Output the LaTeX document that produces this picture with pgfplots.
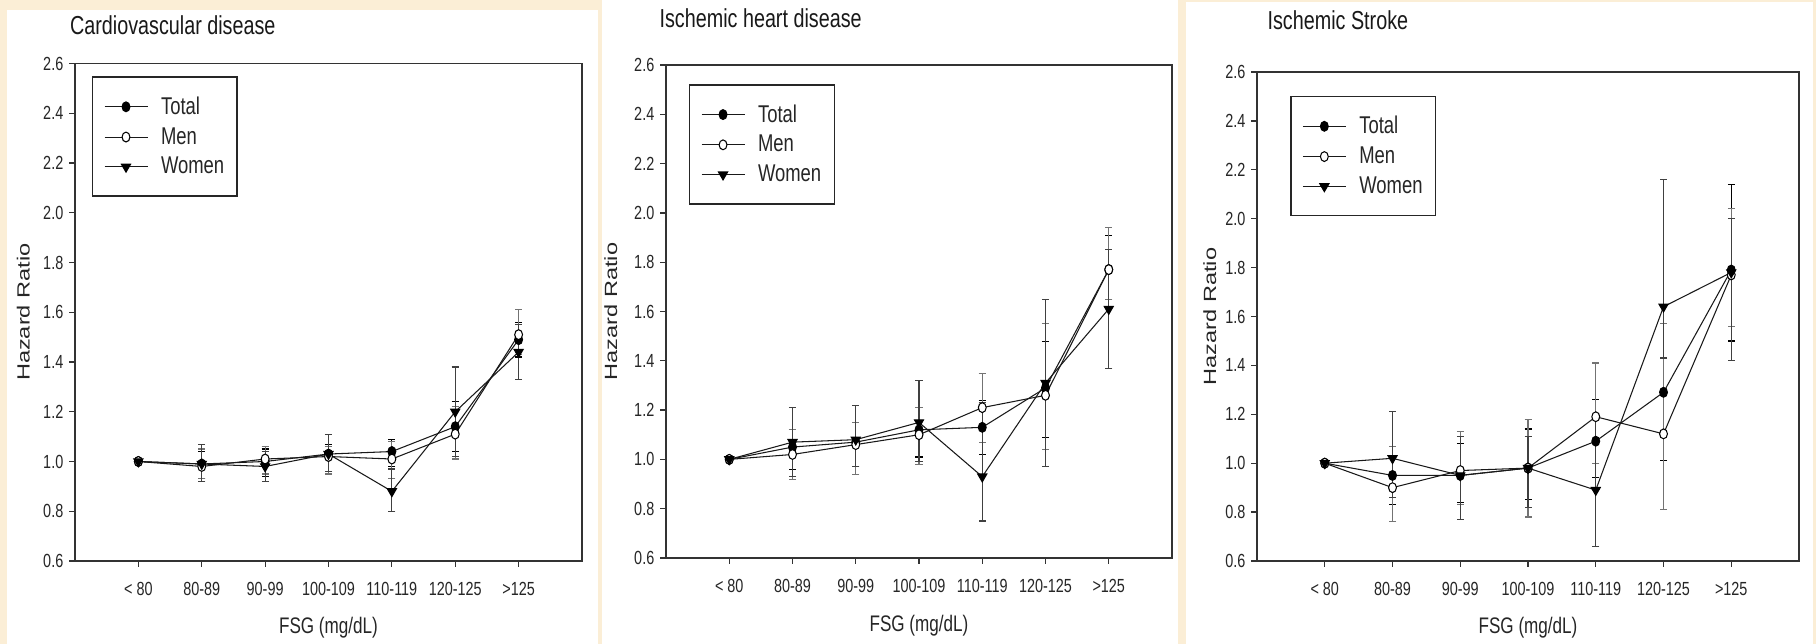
\documentclass[border=0pt]{standalone}
\usepackage{fontspec}
\setmainfont{Liberation Sans}[FakeStretch=0.76]
\newfontfamily\plainsans{Liberation Sans}
\usepackage{graphicx}
\usepackage{pgfplots}
\usepackage{pgfplotstable}
\pgfplotsset{compat=1.18}
\definecolor{bg}{RGB}{251,238,214}

% columns: x, Total (hr, lo, hi), Men (hr, lo, hi), Women (hr, lo, hi)
\pgfplotstableread{
x t tl th m ml mh w wl wh
0 1.00 1.00 1.00 1.00 1.00 1.00 1.00 1.00 1.00
1 0.99 0.93 1.04 0.98 0.93 1.05 0.99 0.92 1.07
2 1.00 0.94 1.05 1.01 0.95 1.06 0.98 0.92 1.04
3 1.03 0.96 1.07 1.02 0.95 1.06 1.03 0.96 1.11
4 1.04 0.98 1.09 1.01 0.93 1.08 0.88 0.80 0.97
5 1.14 1.04 1.24 1.11 1.01 1.22 1.20 1.02 1.38
6 1.49 1.42 1.56 1.51 1.43 1.61 1.44 1.33 1.55
}\cvd
\pgfplotstableread{
x t tl th m ml mh w wl wh
0 1.00 1.00 1.00 1.00 1.00 1.00 1.00 1.00 1.00
1 1.05 0.96 1.12 1.02 0.92 1.12 1.07 0.93 1.21
2 1.07 0.97 1.15 1.06 0.94 1.15 1.08 0.97 1.22
3 1.12 1.01 1.21 1.10 0.98 1.21 1.15 0.99 1.32
4 1.13 1.02 1.24 1.21 1.07 1.35 0.93 0.75 1.23
5 1.29 1.09 1.48 1.26 1.04 1.55 1.31 0.97 1.65
6 1.77 1.62 1.91 1.77 1.65 1.94 1.61 1.37 1.85
}\ihd
\pgfplotstableread{
x t tl th m ml mh w wl wh
0 1.00 1.00 1.00 1.00 1.00 1.00 1.00 1.00 1.00
1 0.95 0.83 1.07 0.90 0.76 1.07 1.02 0.86 1.21
2 0.95 0.84 1.08 0.97 0.83 1.13 0.95 0.77 1.11
3 0.98 0.85 1.14 0.98 0.78 1.18 0.98 0.82 1.11
4 1.09 0.94 1.26 1.19 1.00 1.41 0.89 0.66 1.20
5 1.29 1.01 1.43 1.12 0.81 1.57 1.64 1.43 2.16
6 1.79 1.50 2.14 1.77 1.56 2.04 1.78 1.42 2.00
}\stroke

\pgfplotsset{
  panel/.style={
    scale only axis,
    xmin=-1, xmax=7, ymin=0.6, ymax=2.6,
    xtick={0,1,2,3,4,5,6},
    xticklabels={< 80,80-89,90-99,100-109,110-119,120-125,>125},
    ytick={0.6,0.8,1.0,1.2,1.4,1.6,1.8,2.0,2.2,2.4,2.6},
    tick align=outside, xtick pos=bottom, ytick pos=left,
    major tick length=1.2mm,
    axis line style={black!80, line width=0.85pt},
    every tick/.style={black!80, line width=0.7pt},
    tick label style={font=\fontsize{10.8}{12}\selectfont, text=black!85},
    yticklabel style={/pgf/number format/fixed, /pgf/number format/fixed zerofill,
      /pgf/number format/precision=1,
      /pgf/number format/assume math mode=true},
    xticklabel style={yshift=-1.8mm},
    yticklabel style={xshift=0.1mm},
    xlabel={FSG (mg/dL)},
    ylabel={\plainsans\fontsize{13.4}{14}\selectfont\scalebox{1}[0.75]{Hazard Ratio}},
    xlabel style={font=\fontsize{12.8}{14}\selectfont, text=black!85},
    ylabel style={text=black!85},
    title style={font=\fontsize{14.8}{16}\selectfont, text=black!90, anchor=west},
    legend style={draw=black!85, line width=0.85pt, fill=white,
      font=\fontsize{13.8}{15}\selectfont, text=black!85,
      inner xsep=2.3mm, inner ysep=3.6mm, row sep=1.5mm, column sep=2.3mm,
      nodes={inner sep=0.3mm}, anchor=north west},
    legend cell align=left,
    legend image code/.code={
      \draw[mark repeat=2, mark phase=2, #1] plot coordinates {(0cm,0cm) (0.43cm,0cm) (0.86cm,0cm)};
    },
  },
  serT/.style={black!90, line width=0.6pt, mark=*, mark size=2.8pt,
    mark options={solid, fill=black, draw=black, xscale=0.8},
    error bars/.cd, y dir=both, y explicit,
    error bar style={black, line width=0.65pt},
    error mark options={rotate=90, black, mark size=2pt, line width=0.65pt}},
  serM/.style={black!90, line width=0.6pt, mark=*, mark size=2.8pt,
    mark options={solid, fill=white, draw=black, xscale=0.8},
    error bars/.cd, y dir=both, y explicit,
    error bar style={black!55, line width=0.65pt},
    error mark options={rotate=90, black!55, mark size=2pt, line width=0.65pt}},
  serW/.style={black!90, line width=0.6pt, mark=triangle*, mark size=3pt,
    mark options={solid, fill=black, draw=black, rotate=180},
    error bars/.cd, y dir=both, y explicit,
    error bar style={black!75, line width=0.65pt},
    error mark options={rotate=90, black!75, mark size=2pt, line width=0.65pt}},
}

\newcommand{\threeseries}[1]{%
  \addplot[serT] table[x=x, y=t, y error plus expr=\thisrow{th}-\thisrow{t}, y error minus expr=\thisrow{t}-\thisrow{tl}] {#1};
  \addlegendentry{Total}
  \addplot[serM] table[x=x, y=m, y error plus expr=\thisrow{mh}-\thisrow{m}, y error minus expr=\thisrow{m}-\thisrow{ml}] {#1};
  \addlegendentry{Men}
  \addplot[serW] table[x=x, y=w, y error plus expr=\thisrow{wh}-\thisrow{w}, y error minus expr=\thisrow{w}-\thisrow{wl}] {#1};
  \addlegendentry{Women}
}

\begin{document}
\begin{tikzpicture}
\useasboundingbox (0,0) rectangle (363.2mm,128.8mm);
\fill[bg] (0,0) rectangle (363.2mm,128.8mm);
\fill[white] (1.4mm,0) rectangle (119.6mm,126.8mm);
\fill[white] (120.4mm,0) rectangle (235.6mm,128.8mm);
\fill[white] (237.2mm,0) rectangle (362.6mm,128.4mm);

% Panel 1
\begin{axis}[panel, at={(15mm,16.6mm)}, anchor=south west,
  width=101.4mm, height=99.5mm,
  title={Cardiovascular disease},
  title style={at={(rel axis cs:-0.022,1.056)}},
  xlabel style={at={(rel axis cs:0.5,-0.135)}, anchor=center},
  ylabel style={at={(rel axis cs:-0.102,0.5)}, anchor=center},
  legend style={at={(0.033,0.974)}}]
\threeseries{\cvd}
\end{axis}

% Panel 2
\begin{axis}[panel, at={(133.2mm,17.2mm)}, anchor=south west,
  width=101.2mm, height=98.6mm,
  title={Ischemic heart disease},
  title style={at={(rel axis cs:-0.025,1.073)}},
  xlabel style={at={(rel axis cs:0.5,-0.138)}, anchor=center},
  ylabel style={at={(rel axis cs:-0.109,0.5)}, anchor=center},
  legend style={at={(0.045,0.961)}}]
\threeseries{\ihd}
\end{axis}

% Panel 3
\begin{axis}[panel, at={(251.4mm,16.6mm)}, anchor=south west,
  width=108.4mm, height=97.8mm,
  title={Ischemic Stroke},
  title style={at={(rel axis cs:0.008,1.084)}},
  xlabel style={at={(rel axis cs:0.5,-0.137)}, anchor=center},
  ylabel style={at={(rel axis cs:-0.087,0.5)}, anchor=center},
  legend style={at={(0.061,0.951)}}]
\threeseries{\stroke}
\end{axis}
\end{tikzpicture}
\end{document}
